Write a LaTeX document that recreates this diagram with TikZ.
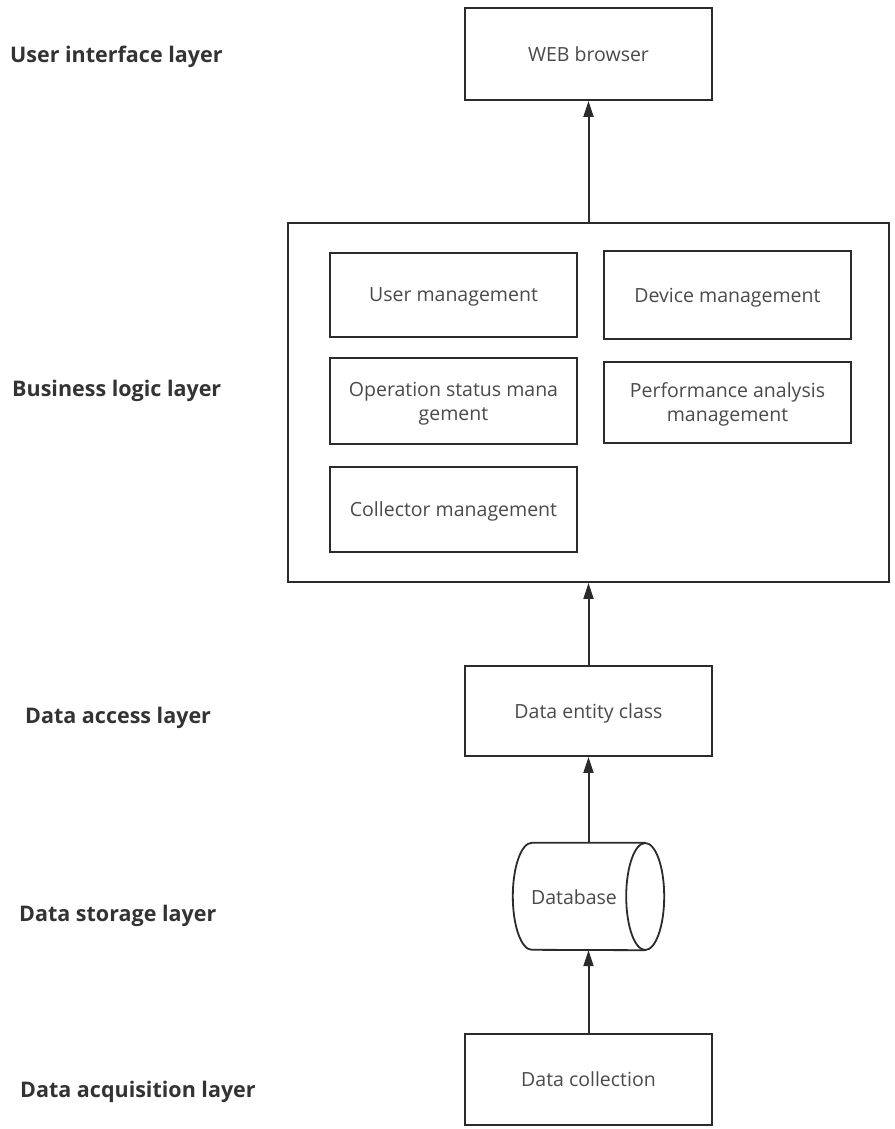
\documentclass[tikz,border=0pt]{standalone}
\usepackage{fontspec}
\setmainfont{Open Sans}
\usetikzlibrary{arrows.meta}
\definecolor{edge}{HTML}{2B2B2B}
\definecolor{txt}{HTML}{4A4A4A}
\definecolor{lbl}{HTML}{333333}
\tikzset{
  box/.style={draw=edge, line width=1.8pt, fill=white, inner sep=0pt, text=txt,
    font=\fontsize{19.5}{24}\selectfont, align=center, text depth=0pt},
  layer/.style={anchor=west, text=lbl, font=\fontsize{21.5}{25}\selectfont\bfseries, inner sep=0pt},
  arr/.style={draw=edge, line width=2pt, -{Triangle[length=16pt, width=10pt]}},
}
\begin{document}
\begin{tikzpicture}[x=1pt, y=-1pt]
\useasboundingbox (0,0) rectangle (894,1129);

% layer captions
\node[layer] (l1) at (10,57) {User interface layer};
\node[layer] (l2) at (12,391) {Business logic layer};
\node[layer] (l3) at (25,718) {Data access layer};
\node[layer] (l4) at (19,916) {Data storage layer};
\node[layer] (l5) at (20,1092) {Data acquisition layer};

% user interface
\node[box, minimum width=247pt, minimum height=92pt] (web) at (588.5,54) {WEB browser};

% business logic
\node[box, minimum width=601pt, minimum height=359pt] (biz) at (588.5,402.5) {};
\node[box, minimum width=247pt, minimum height=84pt] (um) at (453.5,295) {User management};
\node[box, minimum width=247pt, minimum height=88pt] (dm) at (727.5,295) {Device management};
\node[box, minimum width=247pt, minimum height=86pt] (om) at (453.5,401) {Operation status mana\\gement};
\node[box, minimum width=247pt, minimum height=81pt] (pm) at (727.5,402.5) {Performance analysis\\management};
\node[box, minimum width=247pt, minimum height=85pt] (cm) at (453.5,509.5) {Collector management};

% data access
\node[box, minimum width=247pt, minimum height=90pt] (dec) at (588.5,711) {Data entity class};

% data storage: horizontal cylinder
\node[minimum width=151pt, minimum height=107pt, inner sep=0pt] (db) at (588.5,896.5) {};
\draw[edge, line width=1.8pt, fill=white]
  ([xshift=-19pt]db.north east) -- ([xshift=19pt]db.north west)
  arc[start angle=270, end angle=90, x radius=19, y radius=53.5]
  -- ([xshift=-19pt]db.south east);
\draw[edge, line width=1.8pt, fill=white] ([xshift=-19pt]db.east) ellipse[x radius=19, y radius=53.5];
\node[text=txt, font=\fontsize{19.5}{24}\selectfont, text depth=0pt] (dbt) at (574,897) {Database};

% data acquisition
\node[box, minimum width=247pt, minimum height=91pt] (dc) at (588.5,1079.5) {Data collection};

% flow between layers
\draw[arr] (dc.north) -- (dc.north |- db.south);
\draw[arr] (db.north) -- (dec.south);
\draw[arr] (dec.north) -- (dec.north |- biz.south);
\draw[arr] (web.south |- biz.north) -- (web.south);
\end{tikzpicture}
\end{document}
